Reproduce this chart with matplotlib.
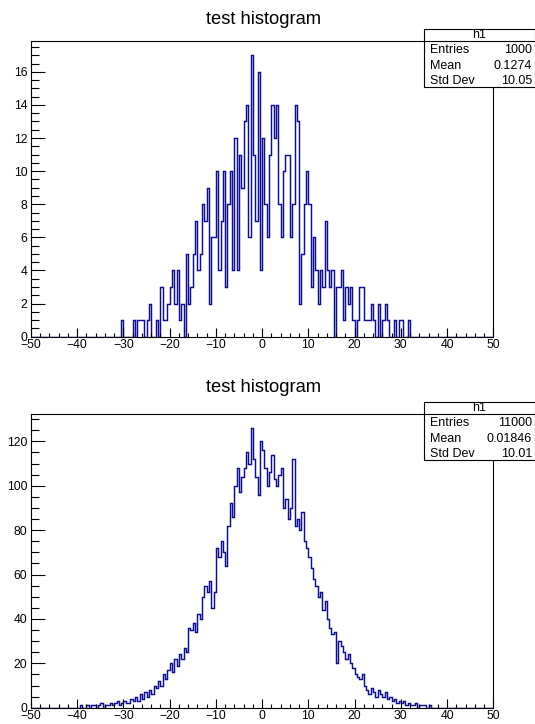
import numpy as np
import matplotlib
matplotlib.use("Agg")
import matplotlib.pyplot as plt
from matplotlib.patches import Rectangle

# bin layout of both histograms (range and width in x units)
X_MIN, X_MAX, BIN_W = -50.0, 50.0, 0.5

# top histogram: counts of the non-empty stretch, first bin starts at TOP_START
TOP_START = -31.0
top_counts = [
    0, 1, 0, 0, 0, 0, 1, 0, 1, 1, 1, 0, 1, 2, 0, 0, 1, 0, 3, 1,
    1, 2, 3, 4, 2, 4, 1, 2, 0, 5, 2, 3, 5, 7, 4, 5, 8, 7, 9, 2,
    6, 6, 10, 4, 7, 10, 3, 8, 10, 4, 12, 4, 11, 9, 13, 14, 6, 17, 11, 7,
    16, 4, 12, 8, 6, 11, 14, 12, 14, 8, 6, 10, 11, 11, 6, 8, 14, 13, 2, 5,
    8, 10, 8, 3, 6, 4, 2, 4, 3, 7, 4, 3, 4, 0, 3, 3, 4, 1, 3, 2,
    3, 1, 0, 1, 3, 3, 1, 1, 1, 2, 1, 0, 2, 0, 1, 2, 1, 0, 0, 1,
    0, 1, 1, 0, 0, 1,
]
top_stats = {"name": "h1", "Entries": "1000", "Mean": "0.1274", "Std Dev": "10.05"}

# bottom histogram
BOTTOM_START = -40.0
bottom_counts = [
    0, 1, 0, 0, 1, 0, 1, 1, 0, 1, 2, 0, 1, 1, 2, 1, 2, 3, 1, 2,
    3, 2, 2, 4, 3, 5, 3, 6, 4, 7, 5, 8, 6, 10, 9, 12, 10, 15, 13, 17,
    20, 16, 22, 19, 24, 22, 27, 25, 36, 35, 38, 34, 42, 40, 50, 55, 52, 57, 45, 52,
    72, 68, 75, 70, 64, 82, 92, 86, 100, 108, 97, 104, 108, 115, 110, 126, 112, 104, 96, 120,
    116, 108, 100, 106, 114, 103, 100, 105, 108, 90, 94, 85, 90, 112, 82, 85, 80, 88, 75, 72,
    68, 63, 58, 55, 50, 52, 44, 48, 40, 36, 33, 34, 20, 30, 28, 25, 22, 24, 20, 18,
    15, 14, 13, 15, 10, 8, 6, 9, 7, 5, 8, 6, 5, 7, 4, 5, 3, 4, 2, 3,
    2, 3, 1, 2, 1, 1, 2, 0, 1, 1, 1, 0, 1, 0, 0,
]
bottom_stats = {"name": "h1", "Entries": "11000", "Mean": "0.01846", "Std Dev": "10.01"}

TITLE = "test histogram"

W, H = 535, 724
LINE_COLOR = "#0c0c96"
plt.rcParams["font.family"] = ["Liberation Sans", "DejaVu Sans"]


def full_counts(start, counts):
    edges = np.arange(X_MIN, X_MAX + BIN_W / 2, BIN_W)
    values = np.zeros(len(edges) - 1)
    i0 = int(round((start - X_MIN) / BIN_W))
    values[i0:i0 + len(counts)] = counts
    return edges, values


def fx(px):
    return px / W


def fy(py):
    return 1 - py / H


def draw_pad(fig, ax_box, start, counts, y_major, y_minor, title_y, box_y, stats):
    left, top, right, bottom = ax_box
    ax = fig.add_axes([fx(left), fy(bottom), fx(right - left), (bottom - top) / H])
    edges, values = full_counts(start, counts)
    ax.stairs(values, edges, color=LINE_COLOR, linewidth=1.05)

    ax.set_xlim(X_MIN, X_MAX)
    ax.set_ylim(0, max(counts) * 1.05)
    ax.set_xticks(np.arange(-50, 51, 10))
    ax.set_xticks(np.arange(-50, 51, 2), minor=True)
    ax.set_yticks(np.arange(0, max(counts) * 1.05, y_major))
    ax.set_yticks(np.arange(0, max(counts) * 1.05, y_minor), minor=True)
    ax.tick_params(axis="x", which="major", direction="in", length=6.5, width=0.8,
                   labelsize=8.8, pad=1.6, top=False)
    ax.tick_params(axis="x", which="minor", direction="in", length=3.2, width=0.8, top=False)
    ax.tick_params(axis="y", which="major", direction="in", length=10.4, width=0.8,
                   labelsize=8.8, pad=2.6, right=False)
    ax.tick_params(axis="y", which="minor", direction="in", length=5.6, width=0.8, right=False)
    for s in ax.spines.values():
        s.set_linewidth(0.8)
        s.set_color("black")

    fig.text(fx(264), fy(title_y), TITLE, ha="center", va="center", fontsize=13.2)

    # stats box
    bx0, by0, by_sep, by1 = 424, box_y, box_y + 11.8, box_y + 58.5
    fig.patches.append(Rectangle((fx(bx0), fy(by1)), fx(534.5 - bx0), (by1 - by0) / H,
                                 transform=fig.transFigure, facecolor="white",
                                 edgecolor="black", linewidth=0.8, zorder=5))
    fig.add_artist(plt.Line2D([fx(bx0), fx(534.5)], [fy(by_sep), fy(by_sep)],
                              transform=fig.transFigure, color="black", linewidth=0.8, zorder=6))
    fig.text(fx(479), fy(box_y + 6.3), stats["name"], ha="center", va="center",
             fontsize=9, zorder=7)
    for i, key in enumerate(["Entries", "Mean", "Std Dev"]):
        yy = box_y + 21.6 + i * 15.3
        fig.text(fx(430), fy(yy), key, ha="left", va="center", fontsize=9, zorder=7)
        fig.text(fx(532), fy(yy), stats[key], ha="right", va="center", fontsize=9, zorder=7)
    return ax


fig = plt.figure(figsize=(W / 100, H / 100), dpi=100, facecolor="white")

draw_pad(fig, (31, 41.2, 493.3, 336.7), TOP_START, top_counts, 2, 0.5, 19, 28.8, top_stats)
draw_pad(fig, (31, 414.0, 493.3, 707.7), BOTTOM_START, bottom_counts, 20, 5, 388, 401.7,
         bottom_stats)

fig.savefig("out.png", dpi=100, facecolor="white")
